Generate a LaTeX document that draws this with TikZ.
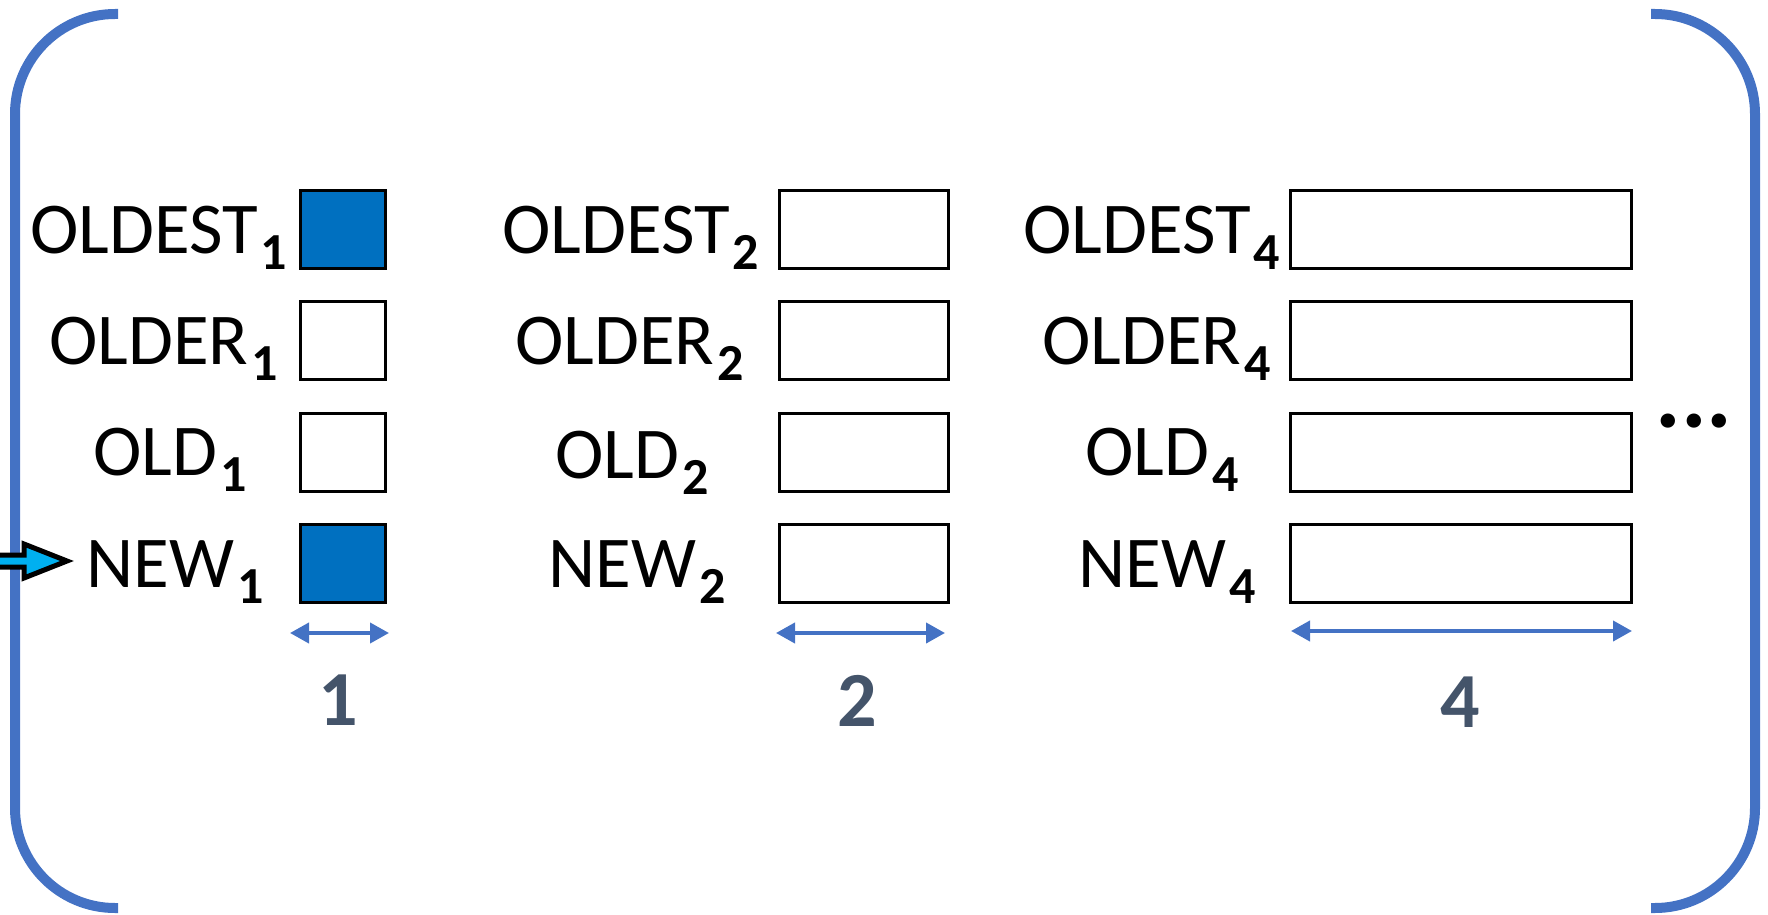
\documentclass[tikz,border=0pt]{standalone}
\usepackage{fontspec}
\setmainfont{Carlito}
\usetikzlibrary{arrows.meta}
\definecolor{brk}{HTML}{4472C4}
\definecolor{boxblue}{HTML}{0070C0}
\definecolor{numcol}{HTML}{44546A}
\definecolor{cyanarrow}{HTML}{00B0F0}
\newcommand{\lbl}[2]{\fontsize{36.5}{40}\selectfont #1\kern1.5pt\raisebox{-8pt}{\fontsize{26}{28}\selectfont\bfseries #2}}
\begin{document}
\begin{tikzpicture}[x=0.5pt,y=-0.5pt,
  cell/.style={draw=black,line width=1.5pt,inner sep=0pt,minimum height=39pt},
  c1/.style={cell,minimum width=42.5pt},
  c2/.style={cell,minimum width=84.5pt},
  c3/.style={cell,minimum width=170.5pt},
  full/.style={fill=boxblue},
  lab/.style={anchor=base west,inner sep=0pt,text=black},
  num/.style={inner sep=0pt,text=numcol,font=\fontsize{39}{42}\selectfont\bfseries},
  dim/.style={draw=brk,line width=2pt,{Triangle[length=9.5pt,width=10pt]}-{Triangle[length=9.5pt,width=10pt]}},
  bracket/.style={draw=brk,line width=5pt,rounded corners=50pt}]
\useasboundingbox (0,0) rectangle (1768,915);
% brackets
\draw[bracket] (118,14) -- (15,14) -- (15,908) -- (118,908);
\draw[bracket] (1651,14) -- (1755,14) -- (1755,908) -- (1651,908);
% boxes column 1
\node[c1,full] (a1) at (343,229.5) {};
\node[c1] (a2) at (343,340.5) {};
\node[c1] (a3) at (343,452) {};
\node[c1,full] (a4) at (343,563) {};
% column 2
\node[c2] (b1) at (864,229.5) {};
\node[c2] (b2) at (864,340.5) {};
\node[c2] (b3) at (864,452) {};
\node[c2] (b4) at (864,563) {};
% column 3
\node[c3] (e1) at (1461,229.5) {};
\node[c3] (e2) at (1461,340.5) {};
\node[c3] (e3) at (1461,452) {};
\node[c3] (e4) at (1461,563) {};
% labels column 1
\node[lab] (la1) at (30,253) {\lbl{OLDEST}{1}};
\node[lab] (la2) at (49,364) {\lbl{OLDER}{1}};
\node[lab] (la3) at (93,475) {\lbl{OLD}{1}};
\node[lab] (la4) at (86,587) {\lbl{NEW}{1}};
% labels column 2
\node[lab] (lb1) at (502,253) {\lbl{OLDEST}{2}};
\node[lab] (lb2) at (515,364) {\lbl{OLDER}{2}};
\node[lab] (lb3) at (555,478) {\lbl{OLD}{2}};
\node[lab] (lb4) at (548,587) {\lbl{NEW}{2}};
% labels column 3
\node[lab] (le1) at (1023,253) {\lbl{OLDEST}{4}};
\node[lab] (le2) at (1042,364) {\lbl{OLDER}{4}};
\node[lab] (le3) at (1085,475) {\lbl{OLD}{4}};
\node[lab] (le4) at (1078,587) {\lbl{NEW}{4}};
% dots
\node[inner sep=0pt,font=\fontsize{48}{50}\selectfont\bfseries] (dots) at (1694,421) {...};
% dimension arrows
\coordinate (d1a) at (290,633); \coordinate (d1b) at (389,633);
\coordinate (d2a) at (776,633); \coordinate (d2b) at (945,633);
\coordinate (d3a) at (1291,631); \coordinate (d3b) at (1632,631);
\draw[dim] (d1a) -- (d1b);
\draw[dim] (d2a) -- (d2b);
\draw[dim] (d3a) -- (d3b);
\node[num] (n1) at (338,700) {1};
\node[num] (n2) at (857,701) {2};
\node[num] (n4) at (1460,702) {4};
% input arrow
\coordinate (arrtip) at (67,561);
\draw[line width=2.5pt,fill=cyanarrow,line join=miter]
  (-10,555) -- (24,555) -- (24,544) -- (arrtip) -- (24,578) -- (24,567) -- (-10,567) -- cycle;
\end{tikzpicture}
\end{document}
